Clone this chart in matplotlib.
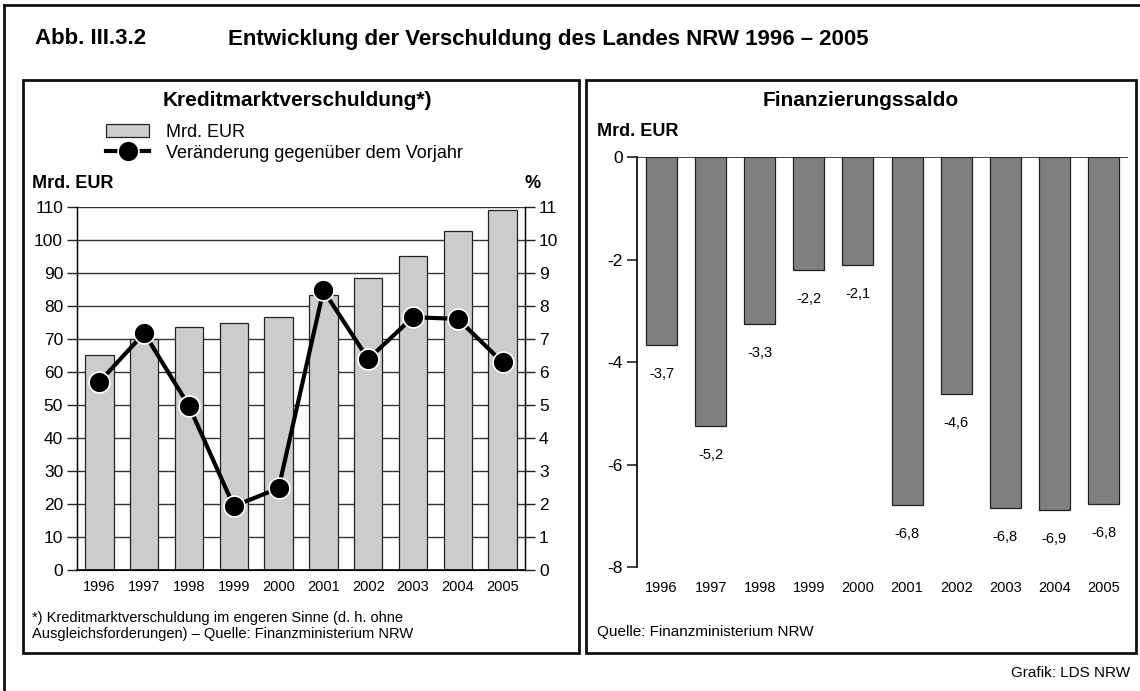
import numpy as np
import matplotlib.pyplot as plt
from matplotlib.patches import Rectangle
from matplotlib.lines import Line2D

plt.rcParams['font.family'] = ['Liberation Sans', 'DejaVu Sans']

# Daten
jahre = ['1996', '1997', '1998', '1999', '2000', '2001', '2002', '2003', '2004', '2005']
schulden_mrd = [65.3, 70.0, 73.5, 74.8, 76.8, 83.3, 88.5, 95.3, 102.6, 109.0]
veraenderung_pct = [5.7, 7.18, 4.97, 1.93, 2.48, 8.47, 6.39, 7.66, 7.61, 6.29]
saldo_mrd = [-3.67, -5.24, -3.26, -2.21, -2.10, -6.79, -4.63, -6.84, -6.89, -6.77]

W, H = 1140, 691
fig = plt.figure(figsize=(W / 100, H / 100), dpi=100)

def fx(px):
    return px / W

def fy(py):
    return 1 - py / H

def box(x0, y0, x1, y1, lw=2.0):
    fig.add_artist(Rectangle((fx(x0), fy(y1)), fx(x1) - fx(x0), fy(y0) - fy(y1),
                             transform=fig.transFigure, fill=False,
                             edgecolor='#111111', linewidth=lw))

# Rahmen
fig.add_artist(Line2D([fx(4), fx(4)], [fy(5), fy(691)], transform=fig.transFigure, color='#111111', lw=2))
fig.add_artist(Line2D([fx(4), fx(1140)], [fy(5), fy(5)], transform=fig.transFigure, color='#111111', lw=2))
box(23, 80, 579, 653)
box(586, 80, 1136, 653)

# Titel
fig.text(fx(35), fy(39), 'Abb. III.3.2', fontsize=16, fontweight='bold', va='center', ha='left')
fig.text(fx(228), fy(39), 'Entwicklung der Verschuldung des Landes NRW 1996 – 2005',
         fontsize=16, fontweight='bold', va='center', ha='left')

x = np.arange(len(jahre))
tick_fs = 12.5
jahr_fs = 10.5

# ---------- linkes Diagramm ----------
ax1 = fig.add_axes([fx(77), fy(570), fx(525) - fx(77), fy(207) - fy(570)])
bars = ax1.bar(x, schulden_mrd, width=0.63, color='#cccccc', edgecolor='#222222', linewidth=0.9, zorder=2)
ax1.set_xlim(-0.5, 9.5)
ax1.set_ylim(0, 110)
ax1.set_yticks(np.arange(0, 111, 10))
ax1.yaxis.grid(True, color='#333333', linewidth=1.0, zorder=0)
ax1.set_axisbelow(True)
ax1.set_xticks(x)
ax1.set_xticklabels(jahre, fontsize=jahr_fs)
ax1.tick_params(axis='x', length=0, pad=7)
ax1.tick_params(axis='y', length=7, width=1, labelsize=tick_fs, pad=3, color='#222222')
ax1.spines['top'].set_visible(False)
ax1.spines['left'].set_linewidth(1.0)
ax1.spines['right'].set_linewidth(1.0)
ax1.spines['bottom'].set_linewidth(1.2)

ax1b = ax1.twinx()
ax1b.set_ylim(0, 11)
ax1b.set_yticks(np.arange(0, 12, 1))
ax1b.tick_params(axis='y', length=7, width=1, labelsize=tick_fs, pad=3, color='#222222')
ax1b.spines['top'].set_visible(False)
linie, = ax1b.plot(x, veraenderung_pct, color='black', linewidth=3, marker='o', markersize=15,
                   markerfacecolor='black', markeredgecolor='white', markeredgewidth=1.2, zorder=5)

fig.text(fx(297), fy(100), 'Kreditmarktverschuldung*)', fontsize=15, fontweight='bold', ha='center', va='center')
fig.legend([bars, linie], ['Mrd. EUR', 'Veränderung gegenüber dem Vorjahr'],
           loc='upper left', bbox_to_anchor=(fx(106), fy(124)), frameon=False,
           fontsize=13, handlelength=2.4, handletextpad=0.9, labelspacing=0.2,
           numpoints=1, borderaxespad=0, borderpad=0)
fig.text(fx(32), fy(184), 'Mrd. EUR', fontsize=13, fontweight='bold', ha='left', va='center')
fig.text(fx(541), fy(184), '%', fontsize=13, fontweight='bold', ha='right', va='center')
fig.text(fx(32), fy(618), '*) Kreditmarktverschuldung im engeren Sinne (d. h. ohne', fontsize=10.5, ha='left', va='center')
fig.text(fx(32), fy(634), 'Ausgleichsforderungen) – Quelle: Finanzministerium NRW', fontsize=10.5, ha='left', va='center')

# ---------- rechtes Diagramm ----------
ax2 = fig.add_axes([fx(637), fy(567), fx(1128) - fx(637), fy(157) - fy(567)])
ax2.bar(x, saldo_mrd, width=0.63, color='#808080', edgecolor='#222222', linewidth=0.9, zorder=2)
ax2.set_xlim(-0.5, 9.5)
ax2.set_ylim(-8, 0)
ax2.set_yticks([0, -2, -4, -6, -8])
ax2.set_yticklabels(['0', '-2', '-4', '-6', '-8'])
ax2.axhline(0, color='#222222', linewidth=1.2, zorder=3)
for s in ['top', 'right', 'bottom']:
    ax2.spines[s].set_visible(False)
ax2.spines['left'].set_linewidth(1.2)
ax2.set_xticks(x)
ax2.set_xticklabels(jahre, fontsize=jahr_fs)
ax2.tick_params(axis='x', length=0, pad=10)
ax2.tick_params(axis='y', length=7, width=1.2, labelsize=tick_fs, pad=3, color='#222222')
for xi, v in zip(x, saldo_mrd):
    ax2.annotate(f'{v:.1f}'.replace('.', ','), (xi, v), xytext=(0, -21), textcoords='offset points',
                 ha='center', va='center', fontsize=10.5)

fig.text(fx(861), fy(100), 'Finanzierungssaldo', fontsize=15, fontweight='bold', ha='center', va='center')
fig.text(fx(597), fy(131), 'Mrd. EUR', fontsize=13, fontweight='bold', ha='left', va='center')
fig.text(fx(597), fy(632), 'Quelle: Finanzministerium NRW', fontsize=11, ha='left', va='center')
fig.text(fx(1130), fy(673), 'Grafik: LDS NRW', fontsize=11, ha='right', va='center')

fig.savefig('out.png', dpi=100)
